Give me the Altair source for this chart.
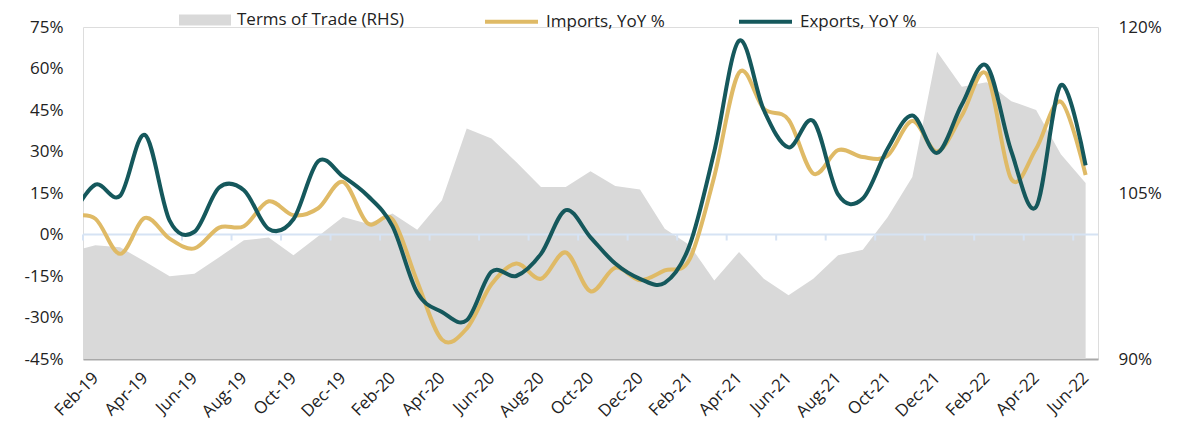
import altair as alt
import pandas as pd

FONT = "Open Sans"
FS = 17
TXT = "#222222"
GOLD = "#DFBA66"
TEAL = "#15585C"
GRAY = "#D9D9D9"
BLUE = "#D6E3F4"

months = ["Jan-19", "Feb-19", "Mar-19", "Apr-19", "May-19", "Jun-19", "Jul-19", "Aug-19",
          "Sep-19", "Oct-19", "Nov-19", "Dec-19", "Jan-20", "Feb-20", "Mar-20", "Apr-20",
          "May-20", "Jun-20", "Jul-20", "Aug-20", "Sep-20", "Oct-20", "Nov-20", "Dec-20",
          "Jan-21", "Feb-21", "Mar-21", "Apr-21", "May-21", "Jun-21", "Jul-21", "Aug-21",
          "Sep-21", "Oct-21", "Nov-21", "Dec-21", "Jan-22", "Feb-22", "Mar-22", "Apr-22",
          "May-22", "Jun-22"]

imports_yoy = [6.5, 5.7, -7, 6, -1.5, -5, 2.5, 3, 12, 7, 9.5, 19, 4, 5.5, -17, -38,
               -34, -18, -10.5, -16, -6.5, -20.5, -12, -16.5, -13, -9, 21, 58.5, 45.5, 41.5,
               22, 30.5, 28, 28.5, 41, 30, 43, 58, 20, 31, 48, 21.5]

exports_yoy = [6, 18, 14, 36, 5, 1, 17, 16, 2, 5.5, 26.5, 21, 14, 3, -21, -28,
               -31, -13.5, -15, -7, 8.8, -1, -10.5, -16, -17.5, -4, 30, 70, 45, 31.5,
               41, 14.5, 13, 31, 43, 29.5, 47, 61, 30, 10, 54, 25]

terms_of_trade = [99.7, 100.27, 100.1, 98.8, 97.47, 97.7, 99.2, 100.72, 100.97, 99.37, 101.1,
                  102.83, 102.23, 103.14, 101.69, 104.34, 110.83, 109.93, 107.8, 105.55,
                  105.55, 106.97, 105.64, 105.31, 101.78, 100.3, 97.1, 99.67, 97.26, 95.75,
                  97.26, 99.37, 99.88, 102.8, 106.45, 117.77, 114.6, 115.0, 113.3, 112.5,
                  108.5, 105.9]

left_ticks = [-45, -30, -15, 0, 15, 30, 45, 60, 75]
right_ticks = [90, 105, 120]

df = pd.DataFrame({
    "idx": list(range(-1, len(months) - 1)),
    "month": months,
    "imports": imports_yoy,
    "exports": exports_yoy,
    "tot": terms_of_trade,
})

label_arr = "[" + ",".join("'" + m + "'" for m in months[1:]) + "]"

x_scale = alt.Scale(domain=[-0.5, 40.5], nice=False, zero=False)
left_scale = alt.Scale(domain=[-45, 75], nice=False, zero=False)
right_scale = alt.Scale(domain=[90, 120], nice=False, zero=False)

x_axis = alt.Axis(values=list(range(0, 41, 2)), labelExpr=label_arr + "[datum.value]",
                  labelAngle=-45, labelAlign="right", labelBaseline="middle",
                  labelOverlap=False, labelBound=False, labelFlush=False,
                  ticks=False, domain=True, domainColor="#A9A9A9", domainWidth=2,
                  grid=False, title=None, labelPadding=16, labelFontSize=FS,
                  labelFont=FONT, labelColor=TXT)

left_axis = alt.Axis(orient="left", values=left_ticks, labelExpr="datum.value + '%'",
                     ticks=False, domain=False, grid=False, title=None, labelPadding=20,
                     labelFontSize=FS, labelFont=FONT, labelColor=TXT)

area = alt.Chart(df).transform_calculate(s="'Terms of Trade (RHS)'").mark_area(clip=True).encode(
    x=alt.X("idx:Q", scale=x_scale, axis=x_axis),
    y=alt.Y("tot:Q", scale=right_scale,
            axis=alt.Axis(orient="right", values=right_ticks, labelExpr="datum.value + '%'",
                          ticks=False, domain=False, grid=False, title=None, labelPadding=20,
                          labelFontSize=FS, labelFont=FONT, labelColor=TXT)),
    y2=alt.Y2(datum=90),
    fill=alt.Fill("s:N", scale=alt.Scale(domain=["Terms of Trade (RHS)"], range=[GRAY]),
                  legend=alt.Legend(orient="none", legendX=96, legendY=-33, title=None,
                                    symbolType="M-1,-0.21H1V0.21H-1Z", symbolSize=2704,
                                    symbolStrokeWidth=0, labelFontSize=FS, labelFont=FONT,
                                    labelColor=TXT, labelOffset=6, labelLimit=400, padding=0)),
)

zero = alt.Chart(df).transform_aggregate(n="count()").mark_rule(color=BLUE, strokeWidth=2).encode(
    x=alt.X(datum=-0.5, scale=x_scale, axis=x_axis),
    x2=alt.X2(datum=40.5),
    y=alt.Y(datum=0, scale=left_scale, axis=left_axis),
)

ticks = alt.Chart(df).transform_filter("datum.idx >= 0 && datum.idx % 2 == 0").transform_calculate(
    tp="datum.idx - 0.5").mark_rule(color=BLUE, strokeWidth=2, y2Offset=6).encode(
    x=alt.X("tp:Q", scale=x_scale, axis=x_axis),
    y=alt.Y(datum=0, scale=left_scale, axis=left_axis),
    y2=alt.Y2(datum=0),
)

series_scale = alt.Scale(domain=["Imports, YoY %", "Exports, YoY %"], range=[GOLD, TEAL])
line_legend = alt.Legend(orient="none", legendX=400, legendY=-34, title=None, direction="horizontal",
                         symbolType="stroke", symbolSize=2809, symbolStrokeWidth=4,
                         labelFontSize=FS, labelFont=FONT, labelColor=TXT, labelOffset=6,
                         labelLimit=400, columnPadding=66, padding=0)

base = alt.Chart(df).transform_fold(["imports", "exports"], as_=["k", "v"]).transform_calculate(
    series="datum.k == 'imports' ? 'Imports, YoY %' : 'Exports, YoY %'")

imp_line = base.transform_filter("datum.k == 'imports'").mark_line(
    interpolate="cardinal", strokeWidth=4, clip=True).encode(
    x=alt.X("idx:Q", scale=x_scale, axis=x_axis),
    y=alt.Y("v:Q", scale=left_scale, axis=left_axis),
    stroke=alt.Stroke("series:N", scale=series_scale, legend=line_legend),
)
exp_line = base.transform_filter("datum.k == 'exports'").mark_line(
    interpolate="cardinal", strokeWidth=4, clip=True).encode(
    x=alt.X("idx:Q", scale=x_scale, axis=x_axis),
    y=alt.Y("v:Q", scale=left_scale, axis=left_axis),
    stroke=alt.Stroke("series:N", scale=series_scale, legend=line_legend),
)

inner = alt.layer(zero, ticks, imp_line, exp_line)

chart = alt.layer(area, inner).resolve_scale(y="independent").properties(
    width=1015, height=332,
    autosize=alt.AutoSizeParams(type="none"),
    padding={"left": 75, "top": 19, "right": 87, "bottom": 62},
).configure_view(stroke=None).configure(background="white")

chart.save("out.html", embed_options={"renderer": "svg", "actions": False})
